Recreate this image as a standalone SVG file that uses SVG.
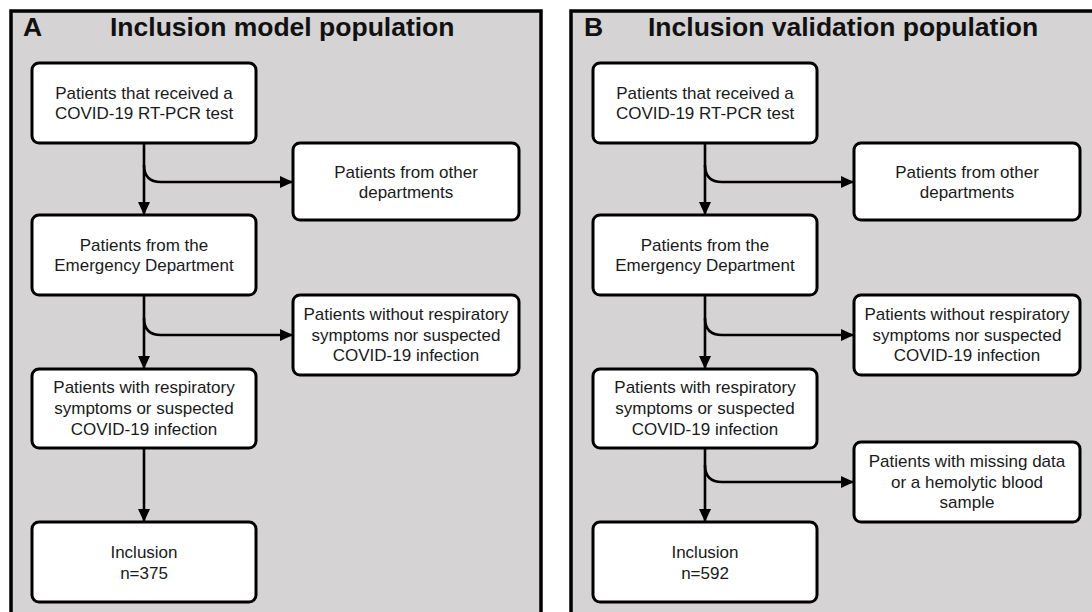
<svg xmlns="http://www.w3.org/2000/svg" width="1092" height="612" viewBox="0 0 1092 612">
<defs>
<style>
.panel{fill:#d5d3d4;stroke:#000;stroke-width:3.5}
.box{fill:#fff;stroke:#000;stroke-width:3}
.t{font-family:"Liberation Sans",Arial,sans-serif;font-size:17px;fill:#1a1a1a;text-anchor:middle}
.title{font-family:"Liberation Sans",Arial,sans-serif;font-size:26.5px;font-weight:bold;fill:#111}
.c{fill:none;stroke:#000;stroke-width:2.6}
</style>
<marker id="ah" viewBox="0 0 13 12" refX="13" refY="6" markerWidth="13" markerHeight="12" markerUnits="userSpaceOnUse" orient="auto">
<path d="M0,0 L13,6 L0,12 Z" fill="#000"/>
</marker>
</defs>
<rect width="1092" height="612" fill="#fff"/>
<g id="panelA">
<rect class="panel" x="11" y="11" width="530" height="640"/>
<text class="title" x="23" y="36">A</text>
<text class="title" x="110" y="36">Inclusion model population</text>
</g>
<g id="panelB">
<rect class="panel" x="571" y="11" width="560" height="640"/>
<text class="title" x="584" y="36">B</text>
<text class="title" x="648" y="36">Inclusion validation population</text>
</g>
<g id="connectors">
<path class="c" d="M144,143 V215" marker-end="url(#ah)"/>
<path class="c" d="M144,165 Q144,182 161,182 H293" marker-end="url(#ah)"/>
<path class="c" d="M144,295 V369" marker-end="url(#ah)"/>
<path class="c" d="M144,318 Q144,335 161,335 H293" marker-end="url(#ah)"/>
<path class="c" d="M144,448 V522" marker-end="url(#ah)"/>
<path class="c" d="M705,143 V215" marker-end="url(#ah)"/>
<path class="c" d="M705,165 Q705,182 722,182 H854" marker-end="url(#ah)"/>
<path class="c" d="M705,295 V369" marker-end="url(#ah)"/>
<path class="c" d="M705,318 Q705,335 722,335 H854" marker-end="url(#ah)"/>
<path class="c" d="M705,448 V522" marker-end="url(#ah)"/>
<path class="c" d="M705,465 Q705,482 722,482 H854" marker-end="url(#ah)"/>
</g>
<g id="A1"><rect class="box" x="32" y="63" width="224" height="80" rx="7"/>
<text class="t" x="144" y="99">Patients that received a</text><text class="t" x="144" y="119">COVID-19 RT-PCR test</text></g>
<g id="A2"><rect class="box" x="293" y="143" width="226" height="77" rx="7"/>
<text class="t" x="406" y="178">Patients from other</text><text class="t" x="406" y="198">departments</text></g>
<g id="A3"><rect class="box" x="32" y="215" width="224" height="80" rx="7"/>
<text class="t" x="144" y="251">Patients from the</text><text class="t" x="144" y="271">Emergency Department</text></g>
<g id="A4"><rect class="box" x="293" y="295" width="226" height="80" rx="7"/>
<text class="t" x="406" y="320">Patients without respiratory</text><text class="t" x="406" y="340.5">symptoms nor suspected</text><text class="t" x="406" y="361">COVID-19 infection</text></g>
<g id="A5"><rect class="box" x="32" y="369" width="224" height="79" rx="7"/>
<text class="t" x="144" y="393">Patients with respiratory</text><text class="t" x="144" y="414">symptoms or suspected</text><text class="t" x="144" y="435">COVID-19 infection</text></g>
<g id="A6"><rect class="box" x="32" y="522" width="224" height="80" rx="7"/>
<text class="t" x="144" y="558">Inclusion</text><text class="t" x="144" y="579">n=375</text></g>
<g id="B1"><rect class="box" x="593" y="63" width="224" height="80" rx="7"/>
<text class="t" x="705" y="99">Patients that received a</text><text class="t" x="705" y="119">COVID-19 RT-PCR test</text></g>
<g id="B2"><rect class="box" x="854" y="143" width="226" height="77" rx="7"/>
<text class="t" x="967" y="178">Patients from other</text><text class="t" x="967" y="198">departments</text></g>
<g id="B3"><rect class="box" x="593" y="215" width="224" height="80" rx="7"/>
<text class="t" x="705" y="251">Patients from the</text><text class="t" x="705" y="271">Emergency Department</text></g>
<g id="B4"><rect class="box" x="854" y="295" width="226" height="80" rx="7"/>
<text class="t" x="967" y="320">Patients without respiratory</text><text class="t" x="967" y="340.5">symptoms nor suspected</text><text class="t" x="967" y="361">COVID-19 infection</text></g>
<g id="B5"><rect class="box" x="593" y="369" width="224" height="79" rx="7"/>
<text class="t" x="705" y="393">Patients with respiratory</text><text class="t" x="705" y="414">symptoms or suspected</text><text class="t" x="705" y="435">COVID-19 infection</text></g>
<g id="B6"><rect class="box" x="854" y="442" width="226" height="80" rx="7"/>
<text class="t" x="967" y="467">Patients with missing data</text><text class="t" x="967" y="487.5">or a hemolytic blood</text><text class="t" x="967" y="508">sample</text></g>
<g id="B7"><rect class="box" x="593" y="522" width="224" height="80" rx="7"/>
<text class="t" x="705" y="558">Inclusion</text><text class="t" x="705" y="579">n=592</text></g>
</svg>
